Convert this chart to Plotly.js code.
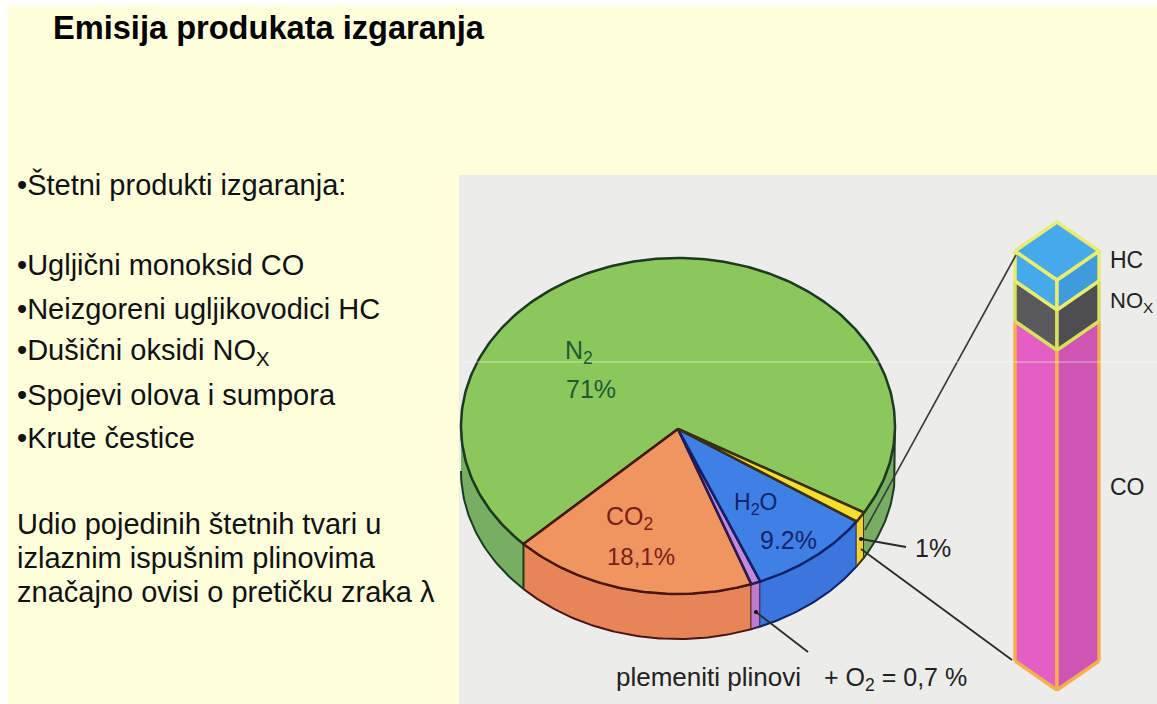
<!DOCTYPE html>
<html><head><meta charset="utf-8">
<script src="https://cdn.plot.ly/plotly-3.0.1.min.js"></script>
<style>html,body{margin:0;padding:0;background:#fff}#c{width:1157px;height:704px}</style>
</head><body><div id="c"></div>
<script>
// ---- data ----
const sliceNames  = ['CO2', 'plemeniti plinovi + O2', 'H2O', 'ostalo', 'N2'];
const sliceValues = [18.1, 0.7, 9.2, 1, 71];
const sliceTop    = ['#EE9560', '#C48AD8', '#3F80E4', '#F6DE2E', '#8CC75C'];
const sliceSide   = ['#E58558', '#BC7CCB', '#3B76DC', '#EFD32C', '#78AE62'];
const sliceEdge   = ['#4A1510', '#2A1A50', '#10206A', '#3A3010', '#1C3A22'];
const columnNames  = ['CO', 'NOx', 'HC'];
const columnShares = [82.9, 9.8, 7.3];
const columnLeft   = ['#E45FC3', '#5A5A5E', '#45A9EA'];
const columnRight  = ['#CE55B4', '#4E4E52', '#3F9CDC'];
const columnEdge   = ['#F4B04C', '#D8E060', '#E8EC70'];
const heading = 'Emisija produkata izgaranja';
const bodyLines = ['•Štetni produkti izgaranja:', '•Ugljični monoksid CO', '•Neizgoreni ugljikovodici HC',
  '•Dušični oksidi NO<sub>X</sub>', '•Spojevi olova i sumpora', '•Krute čestice',
  'Udio pojedinih štetnih tvari u', 'izlaznim ispušnim plinovima', 'značajno ovisi o pretičku zraka λ'];
const bodyY = [184, 265, 309, 352, 395, 438, 524, 558, 592];

// ---- drawing geometry ----
const cx = 678, cy = 426, rx = 217, ry = 168, depth = 45, apexY = 429, startDeg = -45.4;
const pt = (deg, dy) => {
  const r = deg * Math.PI / 180;
  return [cx + rx * Math.sin(r), cy + ry * Math.cos(r) + (dy || 0)];
};
const arc = (a, b, dy) => {
  const out = [], n = Math.max(2, Math.ceil(Math.abs(b - a)));
  for (let i = 0; i <= n; i++) out.push(pt(a + (b - a) * i / n, dy));
  return out;
};
const poly = (pts, fill, edge, width) => ({
  type: 'scatter', mode: 'lines', x: pts.map(p => p[0]), y: pts.map(p => p[1]),
  fill: 'toself', fillcolor: fill, line: {color: edge, width: width}, hoverinfo: 'skip', showlegend: false
});
const seg = (x, y, color, width) => ({
  type: 'scatter', mode: 'lines', x, y, line: {color, width}, hoverinfo: 'skip', showlegend: false
});

const traces = [];
const total = sliceValues.reduce((s, v) => s + v, 0);
let from = startDeg;
const spans = sliceValues.map(v => { const s = [from, from + v / total * 360]; from = s[1]; return s; });

// sides
spans.forEach((s, i) => {
  [[s[0], s[1]], [s[0] - 360, s[1] - 360]].forEach(([a, b]) => {
    const lo = Math.max(a, -90), hi = Math.min(b, 90);
    if (hi <= lo) return;
    traces.push(poly(arc(lo, hi, 0).concat(arc(hi, lo, depth)), sliceSide[i], sliceEdge[i], 2));
  });
});
// tops, N2 first
[4, 0, 1, 2, 3].forEach(i => {
  const [a, b] = spans[i];
  const pts = [[cx, apexY]].concat(arc(a, b, 0), [[cx, apexY]]);
  traces.push(poly(pts, sliceTop[i], sliceEdge[i], 2.5));
});

// column
const colL = 1015, colC = 1057, colR = 1099, colTop = 280, colBottom = 690, rise = 29;
const colTotal = columnShares.reduce((s, v) => s + v, 0);
let yc = colBottom;
columnShares.forEach((v, i) => {
  const h = v / colTotal * (colBottom - colTop), up = yc - h;
  traces.push(poly([[colL, yc - rise], [colC, yc], [colC, up], [colL, up - rise], [colL, yc - rise]], columnLeft[i], columnEdge[i], 3.5));
  traces.push(poly([[colR, yc - rise], [colC, yc], [colC, up], [colR, up - rise], [colR, yc - rise]], columnRight[i], columnEdge[i], 3.5));
  yc = up;
});
traces.push(poly([[colL, colTop - rise], [colC, colTop], [colR, colTop - rise], [colC, colTop - 2 * rise], [colL, colTop - rise]], columnLeft[2], columnEdge[2], 3.5));

// leader lines
traces.push(seg([865, 1016], [530, 255], '#3A3A3A', 1.6));
traces.push(seg([861, 1012], [549, 660], '#2A2A2A', 1.8));
traces.push(seg([861, 906], [539, 547], '#2A2A2A', 1.8));
traces.push(seg([756, 808], [612, 652], '#2A2A2A', 1.8));
traces.push({type: 'scatter', mode: 'markers', x: [861, 756], y: [539, 612], marker: {color: '#111', size: 4}, hoverinfo: 'skip', showlegend: false});
// scan streak
traces.push(seg([460, 1157], [362, 362], 'rgba(255,255,240,0.55)', 1));

const sans = 'Liberation Sans, Arial, sans-serif';
const ann = (x, y, text, size, color, family, anchor) => ({
  x, y, xref: 'x', yref: 'y', text, showarrow: false, xanchor: anchor || 'left', yanchor: 'middle',
  font: {size, color, family}, align: 'left'
});
const annotations = [ann(51, 27, '<b>' + heading + '</b>', 32.6, '#000', sans)];
bodyLines.forEach((t, i) => annotations.push(ann(15, bodyY[i], t, 29, '#111', sans)));
annotations.push(
  ann(563, 352, 'N<sub>2</sub>', 25, '#1F5A35', sans),
  ann(564, 389, '71%', 25, '#1F5A35', sans),
  ann(604, 518, 'CO<sub>2</sub>', 25, '#7A1E1A', sans),
  ann(605, 556, '18,1%', 24, '#7A1E1A', sans),
  ann(732, 503, 'H<sub>2</sub>O', 23, '#14246E', sans),
  ann(758, 540, '9.2%', 25, '#14246E', sans),
  ann(913, 548, '1%', 25, '#222', sans),
  ann(614, 677, 'plemeniti plinovi', 26, '#222', sans),
  ann(822, 679, '+ O<sub>2</sub> = 0,7 %', 25, '#222', sans),
  ann(1108, 260, 'HC', 23, '#222', sans),
  ann(1108, 302, 'NO<sub>X</sub>', 22, '#222', sans),
  ann(1108, 487, 'CO', 23, '#222', sans)
);

const shapes = [
  {type: 'rect', xref: 'x', yref: 'y', x0: 8, x1: 1157, y0: 6, y1: 704, fillcolor: '#FFFFDC', line: {width: 0}, layer: 'below'},
  {type: 'rect', xref: 'x', yref: 'y', x0: 459, x1: 1157, y0: 175, y1: 704, fillcolor: '#ECECEA', line: {width: 0}, layer: 'below'}
];
const hidden = {visible: false, fixedrange: true};
Plotly.newPlot('c', traces, {
  width: 1157, height: 704, margin: {l: 0, r: 0, t: 0, b: 0}, paper_bgcolor: '#fff', plot_bgcolor: 'rgba(0,0,0,0)',
  xaxis: Object.assign({range: [0, 1157]}, hidden),
  yaxis: Object.assign({range: [704, 0]}, hidden),
  shapes, annotations, showlegend: false
}, {displayModeBar: false, staticPlot: true});
</script></body></html>
